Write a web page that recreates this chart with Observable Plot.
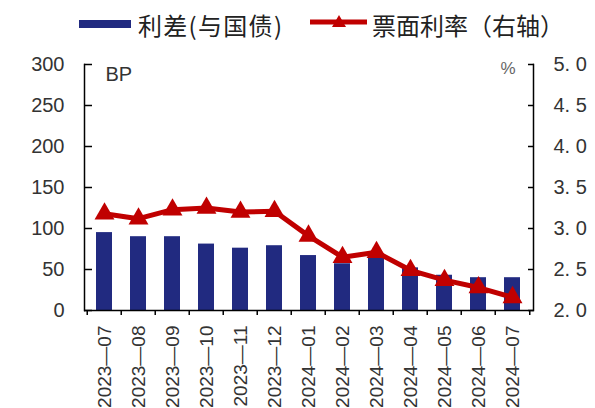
<!DOCTYPE html>
<html><head><meta charset="utf-8">
<script src="https://cdn.jsdelivr.net/npm/d3@7"></script>
<script src="https://cdn.jsdelivr.net/npm/@observablehq/plot@0.6"></script>
<style>
body{margin:0;background:#fff;}
#wrap{position:relative;width:595px;height:408px;overflow:hidden;}
#legend{position:absolute;left:0;top:0;width:595px;height:45px;z-index:2;font-family:"Noto Sans CJK SC",sans-serif;font-size:24px;color:#222;}
.lg{position:absolute;white-space:nowrap;line-height:24px;}
#chart{position:absolute;left:0;top:0;}
</style></head><body>
<div id="wrap">
  <div id="legend">
    <div class="lg" style="left:79px;top:20px;width:52px;height:8px;background:#212a80;"></div>
    <div class="lg" id="t1" style="left:138px;top:13px;letter-spacing:1.3px;"></div>
    <svg class="lg" style="left:310px;top:12px;" width="58" height="20">
      <line x1="0" y1="10" x2="57" y2="10" stroke="#c00000" stroke-width="5"/>
      <path d="M29,3 L36,15 L22,15 Z" fill="#c00000"/>
    </svg>
    <div class="lg" id="t2" style="left:372px;top:13px;"></div>
  </div>
  <div id="chart"></div>
</div>
<script>
const months = ["2023-07","2023-08","2023-09","2023-10","2023-11","2023-12","2024-01","2024-02","2024-03","2024-04","2024-05","2024-06","2024-07"];
const spread = [95, 90, 90, 81, 76, 79, 67, 57, 68, 52, 43, 40, 40];
const coupon = [3.18, 3.12, 3.23, 3.25, 3.20, 3.21, 2.91, 2.65, 2.71, 2.49, 2.37, 2.28, 2.16];
const leftTicks = [0, 50, 100, 150, 200, 250, 300];
const rightTicks = [2.0, 2.5, 3.0, 3.5, 4.0, 4.5, 5.0];
const seriesNames = ["利差(与国债)", "票面利率（右轴）"];
const leftUnit = "BP";
const rightUnit = "%";

document.getElementById("t1").textContent = seriesNames[0];
document.getElementById("t2").textContent = seriesNames[1];

const toLeft = v => (v - 2) * 100;
const data = months.map((m, i) => ({month: m, spread: spread[i], coupon: coupon[i]}));

const W = 595, H = 408, mL = 84, mR = 62, mT = 64, mB = 98;
const step = (W - mL - mR) / months.length;
const font = '"Liberation Sans", Arial, "Noto Sans CJK SC", sans-serif';

const chart = Plot.plot({
  width: W, height: H,
  marginLeft: mL, marginRight: mR, marginTop: mT, marginBottom: mB,
  style: {fontFamily: font, fontSize: "20px", color: "#333", background: "transparent"},
  x: {type: "band", domain: months, paddingInner: 0.52, paddingOuter: 0.26, label: null},
  y: {domain: [0, 300], label: null},
  marks: [
    Plot.barY(data, {x: "month", y: "spread", fill: "#212a80"}),
    Plot.line(data, {x: "month", y: d => toLeft(d.coupon), stroke: "#c00000", strokeWidth: 5, strokeLinejoin: "round"}),
    Plot.dot(data, {x: "month", y: d => toLeft(d.coupon), symbol: "triangle", r: 7.4, fill: "#c00000", stroke: "none"}),
    Plot.ruleY([0], {stroke: "#000", strokeWidth: 1.5}),
    Plot.frame({anchor: "left", stroke: "#000", strokeWidth: 1.5}),
    Plot.frame({anchor: "right", stroke: "#000", strokeWidth: 1.5}),
    Plot.axisY(leftTicks, {anchor: "left", tickSize: -8, tickPadding: 28, fontSize: 20, fill: "#333", stroke: "#000", strokeWidth: 1.5, label: null, tickFormat: d => String(d)}),
    Plot.axisY(rightTicks.map(toLeft), {anchor: "right", tickSize: -6, tickPadding: 26, fontSize: 20, fill: "#333", stroke: "#000", strokeWidth: 1.5, label: null, tickFormat: d => (d / 100 + 2).toFixed(1).replace(".", ". ")}),
    Plot.axisX(months, {anchor: "bottom", tickSize: 5, tickFormat: () => "", dx: -step / 2, stroke: "#000", strokeWidth: 1.5, label: null}),
    Plot.axisX([months[months.length - 1]], {anchor: "bottom", tickSize: 5, tickFormat: () => "", dx: step / 2, stroke: "#000", strokeWidth: 1.5, label: null}),
    Plot.axisX(months, {anchor: "bottom", tickSize: 0, tickPadding: 15, tickRotate: -90, fontSize: 19, fill: "#333", label: null, tickFormat: d => d.replace("-", "—")}),
    Plot.text([leftUnit], {frameAnchor: "top-left", text: d => d, dx: 21, dy: 2, textAnchor: "start", fontSize: 20, fill: "#333"}),
    Plot.text([rightUnit], {frameAnchor: "top-right", text: d => d, dx: -18, dy: -3, textAnchor: "end", fontSize: 17, fill: "#666"})
  ]
});
document.getElementById("chart").appendChild(chart);
</script>
</body></html>
